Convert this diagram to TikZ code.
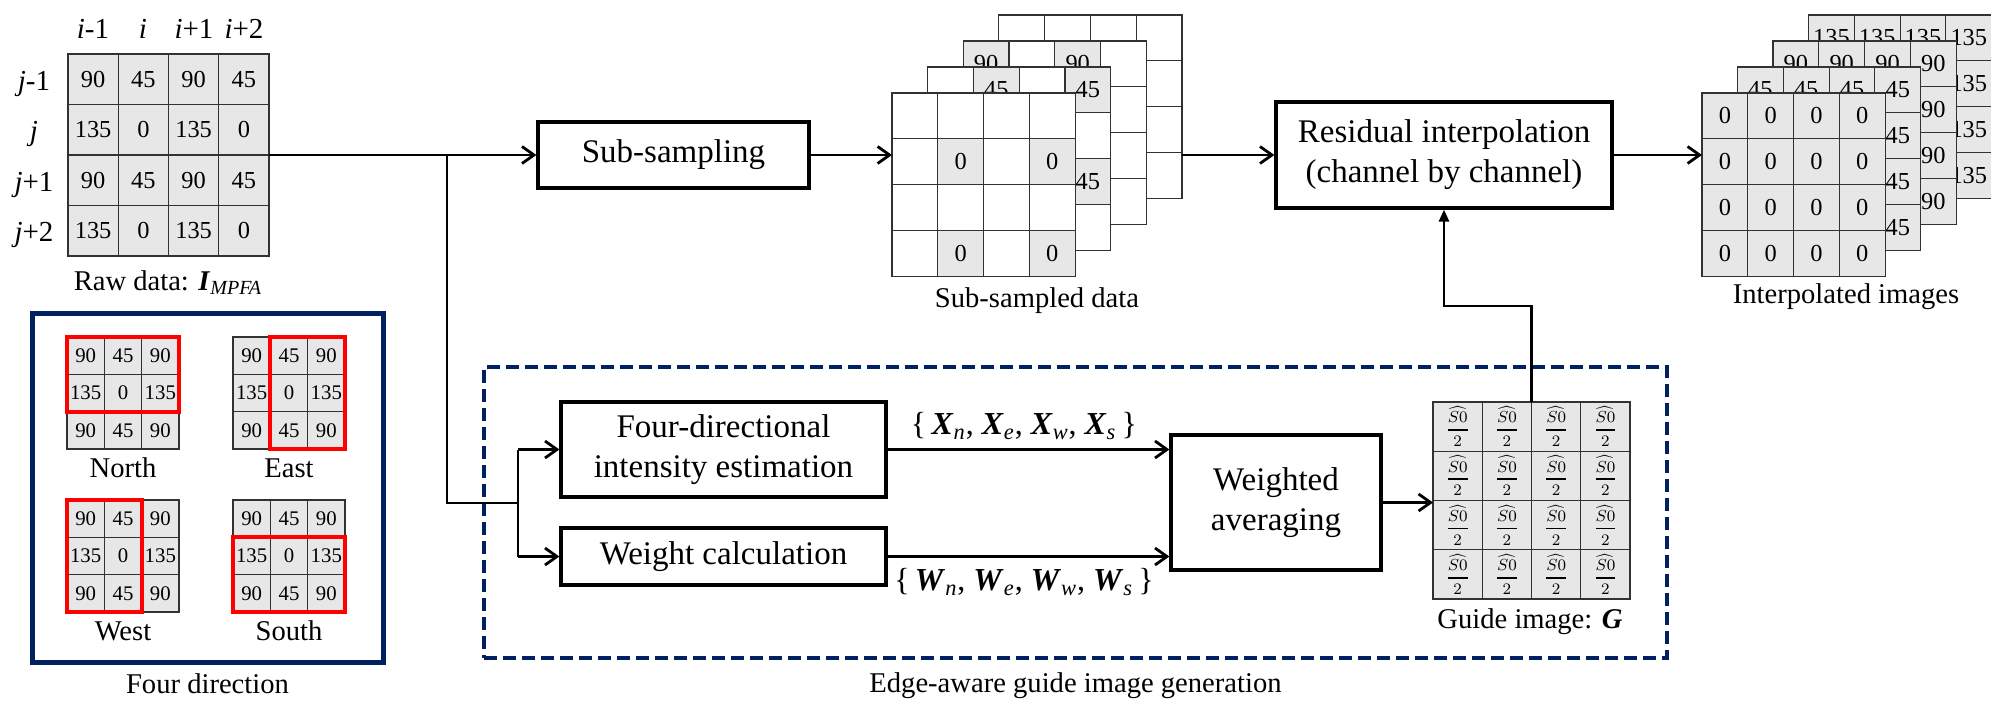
\documentclass[tikz,border=0pt]{standalone}
\usepackage{amsmath}
\usepackage{fontspec}
\setmainfont{Liberation Serif}
\usetikzlibrary{arrows.meta}
\definecolor{navy}{RGB}{0,32,96}
\definecolor{cellgray}{RGB}{231,231,231}
\definecolor{gline}{RGB}{50,50,50}
\newcommand\FBox{\fontsize{16.5}{20}\selectfont}
\newcommand\FCap{\fontsize{14.3}{17}\selectfont}
\newcommand\FNum{\fontsize{12.2}{14}\selectfont}
\newcommand\FMini{\fontsize{10.4}{12}\selectfont}
\newcommand\FLbl{\fontsize{14.5}{17}\selectfont}
\newcommand\FVec{\fontsize{16}{18}\selectfont}
\newcommand\BI[1]{\textbf{\textit{#1}}}
\newcommand\BIs[2]{\textbf{\textit{#1}}\textsubscript{\textit{#2}}}
\newcommand\GFrac{$\displaystyle\genfrac{}{}{0.9pt}{}{\widehat{S0}}{2}$}
\begin{document}
\begin{tikzpicture}[x=0.5pt,y=-0.5pt,
  cell/.style={draw=gline, line width=0.55pt, inner sep=0pt, outer sep=0pt},
  frm/.style={inner sep=0pt, outer sep=0pt},
  procbox/.style={draw, line width=1.6pt, inner sep=0pt, align=center, font=\FBox, fill=white},
  ln/.style={line width=1.4pt},
  arr/.style={line width=1.4pt, -{Straight Barb[length=6pt,width=8.5pt]}},
  capt/.style={font=\FCap, inner sep=0pt, anchor=base},
  lbl/.style={font=\FLbl, inner sep=0pt, anchor=base},
  redbox/.style={draw=red, line width=2pt},
]
\useasboundingbox (0,0) rectangle (1991,718);

% ---------- raw data grid ----------
\foreach \row [count=\r from 0] in {{90,45,90,45},{135,0,135,0},{90,45,90,45},{135,0,135,0}}{
  \foreach \v [count=\c from 0] in \row{
    \node[cell, fill=cellgray, minimum width=25.125pt, minimum height=25.25pt, font=\FNum]
      (raw-\r-\c) at ({68+25.125+50.25*\c},{54+25.25+50.5*\r}) {\v};
  }
}
\node[frm, minimum width=100.5pt, minimum height=101pt] (raw) at (168.5,155) {};
\node[lbl] (h1) at (93,38) {\textit{i}-1};
\node[lbl] (h2) at (143,38) {\textit{i}};
\node[lbl] (h3) at (194,38) {\textit{i}+1};
\node[lbl] (h4) at (244,38) {\textit{i}+2};
\node[lbl] (v1) at (34,90) {\textit{j}-1};
\node[lbl] (v2) at (34,140) {\textit{j}};
\node[lbl] (v3) at (34,191) {\textit{j}+1};
\node[lbl] (v4) at (34,241) {\textit{j}+2};
\node[capt] (rawcap) at (168,290) {Raw data: \BIs{I}{MPFA}};

% ---------- four direction ----------
\node[draw=navy, line width=2.5pt, minimum width=175.5pt, minimum height=174.5pt, inner sep=0pt] (fdbox) at (207.5,487.5) {};
\foreach \nm/\gx/\gy in {N/67/337, E/233/337, W/67/500, S/233/500}{
  \foreach \row [count=\r from 0] in {{90,45,90},{135,0,135},{90,45,90}}{
    \foreach \v [count=\c from 0] in \row{
      \node[cell, fill=cellgray, minimum width=18.667pt, minimum height=18.667pt, font=\FMini]
        (\nm-\r-\c) at ({\gx+18.667+37.333*\c},{\gy+18.667+37.333*\r}) {\v};
    }
  }
}
\draw[redbox] (N-0-0.north west) rectangle (N-1-2.south east);
\draw[redbox] (E-0-1.north west) rectangle (E-2-2.south east);
\draw[redbox] (W-0-0.north west) rectangle (W-2-1.south east);
\draw[redbox] (S-1-0.north west) rectangle (S-2-2.south east);
\node[capt] (capN) at (123,477) {North};
\node[capt] (capE) at (289,477) {East};
\node[capt] (capW) at (123,640) {West};
\node[capt] (capS) at (289,640) {South};
\node[capt] (fdcap) at (207.5,693) {Four direction};

% ---------- sub-sampling ----------
\node[procbox, minimum width=135.5pt, minimum height=33pt] (sub) at (673.5,155) {Sub-sampling};

% sub-sampled stack (back to front)
\foreach \k/\val/\rp/\cp in {3/135/1/0, 2/90/0/0, 1/45/0/1, 0/0/1/1}{
  \foreach \r in {0,...,3}{
    \foreach \c in {0,...,3}{
      \pgfmathtruncatemacro\cellon{and(mod(\r,2)==\rp, mod(\c,2)==\cp)}
      \pgfmathtruncatemacro\cellvis{or(\k==0, or(\r==0, \c==3))}
      \ifnum\cellon=1
        \ifnum\cellvis=1
          \node[cell, fill=cellgray, minimum width=22.9pt, minimum height=22.9pt, font=\FNum]
            (ss-\k-\r-\c) at ({892+35.6*\k+22.9+45.8*\c},{93-26*\k+22.9+45.8*\r}) {\val};
        \else
          \node[cell, fill=cellgray, minimum width=22.9pt, minimum height=22.9pt]
            (ss-\k-\r-\c) at ({892+35.6*\k+22.9+45.8*\c},{93-26*\k+22.9+45.8*\r}) {};
        \fi
      \else
        \node[cell, fill=white, minimum width=22.9pt, minimum height=22.9pt]
          (ss-\k-\r-\c) at ({892+35.6*\k+22.9+45.8*\c},{93-26*\k+22.9+45.8*\r}) {};
      \fi
    }
  }
}
\node[frm, minimum width=91.6pt, minimum height=91.6pt] (ssfront) at (983.6,184.6) {};
\node[frm, minimum width=91.6pt, minimum height=91.6pt] (ssback) at (1090.4,106.6) {};
\node[capt] (sscap) at (1037,307) {Sub-sampled data};

% ---------- residual interpolation ----------
\node[procbox, minimum width=168pt, minimum height=53pt] (res) at (1444,155) {Residual interpolation\\(channel by channel)};

% interpolated stack
\foreach \k/\val in {3/135, 2/90, 1/45, 0/0}{
  \foreach \r in {0,...,3}{
    \foreach \c in {0,...,3}{
      \pgfmathtruncatemacro\cellvis{or(\k==0, or(\r==0, \c==3))}
      \ifnum\cellvis=1
        \node[cell, fill=cellgray, minimum width=22.9pt, minimum height=22.9pt, font=\FNum]
          (is-\k-\r-\c) at ({1702+35.5*\k+22.9+45.8*\c},{93-26*\k+22.9+45.8*\r}) {\val};
      \else
        \node[cell, fill=cellgray, minimum width=22.9pt, minimum height=22.9pt]
          (is-\k-\r-\c) at ({1702+35.5*\k+22.9+45.8*\c},{93-26*\k+22.9+45.8*\r}) {};
      \fi
    }
  }
}
\node[frm, minimum width=91.6pt, minimum height=91.6pt] (ifront) at (1793.6,184.6) {};
\node[capt] (iscap) at (1846,303) {Interpolated images};

% ---------- edge-aware guide image generation ----------
\node[draw=navy, line width=2pt, dash pattern=on 6.5pt off 3pt, minimum width=591.5pt, minimum height=145.5pt, inner sep=0pt] (egbox) at (1075.5,512.5) {};
\node[capt] (egcap) at (1075.5,692) {Edge-aware guide image generation};

\node[procbox, minimum width=162.5pt, minimum height=47.5pt] (fourdir) at (723.5,449.5) {Four-directional\\intensity estimation};
\node[procbox, minimum width=162.5pt, minimum height=28.5pt] (weight) at (723.5,556.5) {Weight calculation};
\node[procbox, minimum width=105pt, minimum height=67.5pt] (wavg) at (1276,502.5) {Weighted\\averaging};

\node[lbl, font=\FVec] (xl) at (1024,434) {\{\,\BIs{X}{n}, \BIs{X}{e}, \BIs{X}{w}, \BIs{X}{s}\,\}};
\node[lbl, font=\FVec] (wl) at (1024,590) {\{\,\BIs{W}{n}, \BIs{W}{e}, \BIs{W}{w}, \BIs{W}{s}\,\}};

% guide image grid
\foreach \r in {0,...,3}{
  \foreach \c in {0,...,3}{
    \node[cell, fill=cellgray, minimum width=24.625pt, minimum height=24.625pt, font=\footnotesize]
      (g-\r-\c) at ({1433+24.625+49.25*\c},{402+24.625+49.25*\r}) {\GFrac};
  }
}
\node[frm, minimum width=98.5pt, minimum height=98.5pt] (guide) at (1531.5,500.5) {};
\node[capt] (gcap) at (1530,628) {Guide image: \BI{G}};

% ---------- connectors ----------
\coordinate (jn) at (447,155);
\coordinate (br) at (518,503);
\draw[arr] (raw.east) -- (raw.east -| sub.west);
\draw[ln] (jn) |- (br);
\draw[ln] (br |- fourdir.west) -- (br |- weight.west);
\draw[arr] (br |- fourdir.west) -- (fourdir.west);
\draw[arr] (br |- weight.west) -- (weight.west);
\draw[arr] (sub.east) -- (sub.east -| ssfront.west);
\draw[arr] (ssback.east |- res.west) -- (res.west);
\draw[arr] (res.east) -- (res.east -| ifront.west);
\draw[arr] (fourdir.east) -- (fourdir.east -| wavg.west);
\draw[arr] (weight.east) -- (weight.east -| wavg.west);
\draw[arr] (wavg.east) -- (wavg.east -| guide.west);
\draw[ln, -{Triangle[length=6pt,width=5pt]}] (guide.north) -- ++(0,-96) -| (res.south);
\end{tikzpicture}
\end{document}
